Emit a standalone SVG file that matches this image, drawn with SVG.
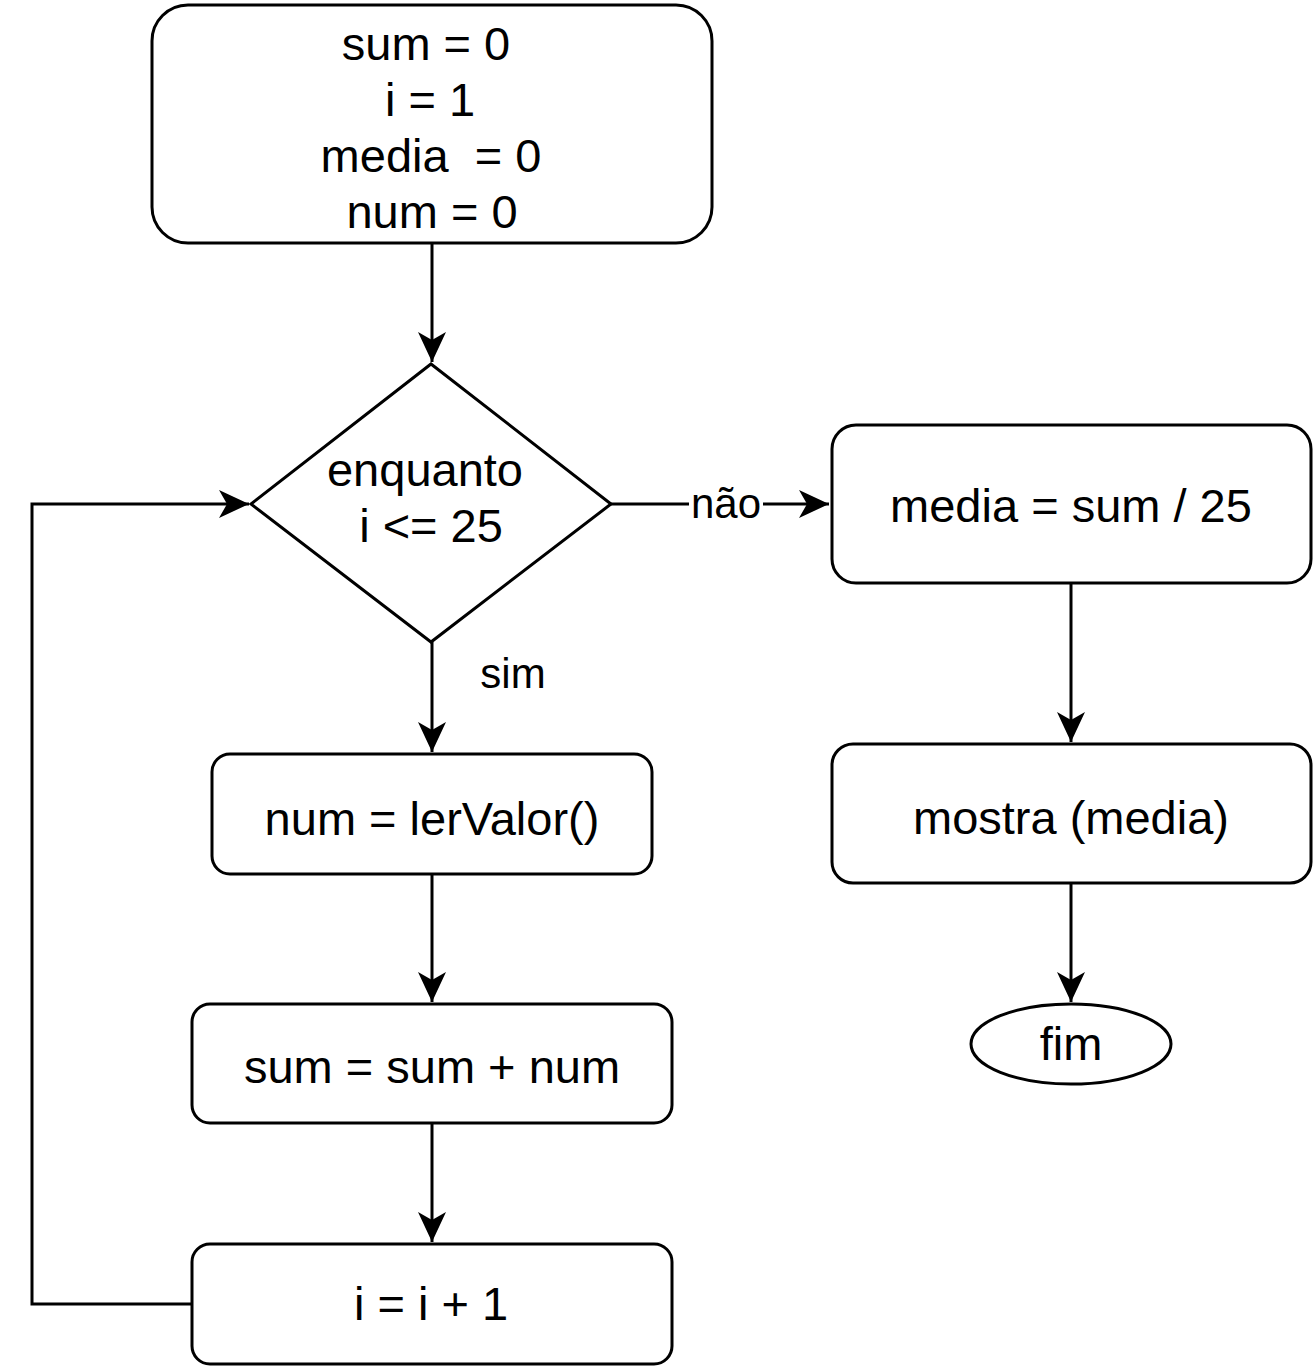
<svg xmlns="http://www.w3.org/2000/svg" width="1315" height="1366" viewBox="0 0 1315 1366">
<style>
.s{fill:#fff;stroke:#000;stroke-width:3}
.c{fill:none;stroke:#000;stroke-width:3}
text{font-family:"Liberation Sans",Arial,sans-serif;font-size:47px;fill:#000;text-anchor:middle;white-space:pre}
.l{font-size:42px}
</style>
<defs>
<marker id="a" markerUnits="userSpaceOnUse" markerWidth="34" markerHeight="32" viewBox="0 0 34 32" refX="32" refY="16" orient="auto">
<path d="M2,2 L32,16 L2,30 L10,16 Z" fill="#000"/>
</marker>
</defs>
<rect width="1315" height="1366" fill="#fff"/>
<g id="connectors">
<path class="c" d="M432,243 L432,362" marker-end="url(#a)"/>
<path class="c" d="M611,504 L689,504 M763,504 L829,504" marker-end="url(#a)"/>
<path class="c" d="M432,642 L432,752" marker-end="url(#a)"/>
<path class="c" d="M432,874 L432,1002" marker-end="url(#a)"/>
<path class="c" d="M432,1123 L432,1242" marker-end="url(#a)"/>
<path class="c" d="M192,1304 L32,1304 L32,504 L249,504" marker-end="url(#a)"/>
<path class="c" d="M1071,583 L1071,742" marker-end="url(#a)"/>
<path class="c" d="M1071,883 L1071,1002" marker-end="url(#a)"/>
<text class="l" x="726" y="518">não</text>
<text class="l" x="513" y="688">sim</text>
</g>
<g id="init">
<rect class="s" x="152" y="5" width="560" height="238" rx="36"/>
<text x="426" y="60">sum = 0</text>
<text x="430" y="116">i = 1</text>
<text x="431" y="172">media  = 0</text>
<text x="432" y="228">num = 0</text>
</g>
<g id="cond">
<path class="s" d="M431,364 L611,504 L431,642 L251,504 Z"/>
<text x="425" y="486">enquanto</text>
<text x="431" y="542">i &lt;= 25</text>
</g>
<g id="ler">
<rect class="s" x="212" y="754" width="440" height="120" rx="18"/>
<text x="432" y="835">num = lerValor()</text>
</g>
<g id="soma">
<rect class="s" x="192" y="1004" width="480" height="119" rx="18"/>
<text x="432" y="1083">sum = sum + num</text>
</g>
<g id="inc">
<rect class="s" x="192" y="1244" width="480" height="120" rx="18"/>
<text x="431" y="1320">i = i + 1</text>
</g>
<g id="media">
<rect class="s" x="832" y="425" width="479" height="158" rx="24"/>
<text x="1071" y="522">media = sum / 25</text>
</g>
<g id="mostra">
<rect class="s" x="832" y="744" width="479" height="139" rx="21"/>
<text x="1071" y="834">mostra (media)</text>
</g>
<g id="fim">
<ellipse class="s" cx="1071" cy="1044" rx="100" ry="40"/>
<text x="1071" y="1060">fim</text>
</g>
</svg>
